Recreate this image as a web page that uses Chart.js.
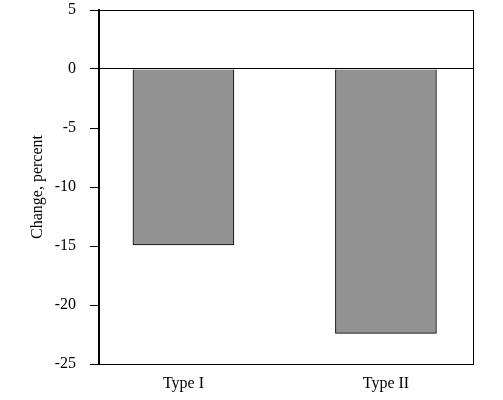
<!DOCTYPE html>
<html>
<head>
<meta charset="utf-8">
<script src="https://cdn.jsdelivr.net/npm/chart.js@4"></script>
<style>
  html, body { margin: 0; padding: 0; background: #fff; }
  #wrap { width: 503px; height: 400px; }
</style>
</head>
<body>
<div id="wrap"><canvas id="chart"></canvas></div>
<script>
"use strict";

// data
const categories = ["Type I", "Type II"];
const changes = [-14.9, -22.4];
const yTicks = [5, 0, -5, -10, -15, -20, -25];

Chart.defaults.font.family = "'Liberation Serif', 'Times New Roman', serif";
Chart.defaults.font.size = 16;
Chart.defaults.color = "#000";

// right-hand frame line
const frame = {
  id: "frame",
  afterDraw(chart) {
    const { ctx, chartArea } = chart;
    ctx.save();
    ctx.strokeStyle = "#000";
    ctx.lineWidth = 1;
    ctx.beginPath();
    ctx.moveTo(Math.round(chartArea.right) + 0.5, chartArea.top);
    ctx.lineTo(Math.round(chartArea.right) + 0.5, chartArea.bottom);
    ctx.stroke();
    ctx.restore();
  },
};

new Chart(document.getElementById("chart"), {
  type: "bar",
  data: {
    datasets: [
      {
        data: changes.map((v, i) => ({ x: i, y: v })),
        backgroundColor: "#929292",
        borderColor: "#000",
        borderWidth: 1,
        barThickness: 101,
      },
    ],
  },
  options: {
    responsive: true,
    maintainAspectRatio: false,
    animation: false,
    layout: { padding: { top: 10, right: 30, bottom: 0, left: 0 } },
    plugins: { legend: { display: false }, tooltip: { enabled: false } },
    scales: {
      x: {
        type: "linear",
        offset: false,
        min: -0.417,
        max: 1.43,
        afterFit: (s) => { s.height = 36; s.paddingLeft = 0; s.paddingRight = 0; },
        ticks: {
          stepSize: 1,
          includeBounds: false,
          autoSkip: false,
          maxRotation: 0,
          padding: 10,
          callback: (v) => categories[v] ?? "",
        },
        grid: { offset: false, drawOnChartArea: false, drawTicks: false },
        border: { color: "#000", width: 1 },
      },
      y: {
        min: Math.min(...yTicks),
        max: Math.max(...yTicks),
        afterFit: (s) => { s.width = 99; s.paddingTop = 0; s.paddingBottom = 0; },
        ticks: { stepSize: 5, padding: 14 },
        grid: {
          color: (c) => (c.tick && (c.tick.value === 0 || c.tick.value === 5) ? "#000" : "rgba(0,0,0,0)"),
          tickColor: "#000",
          tickLength: 9,
          lineWidth: 1,
        },
        border: { color: "#000", width: 2 },
        title: {
          display: true,
          text: "Change, percent",
          padding: { top: 28, bottom: 0 },
        },
      },
    },
  },
  plugins: [frame],
});
</script>
</body>
</html>
